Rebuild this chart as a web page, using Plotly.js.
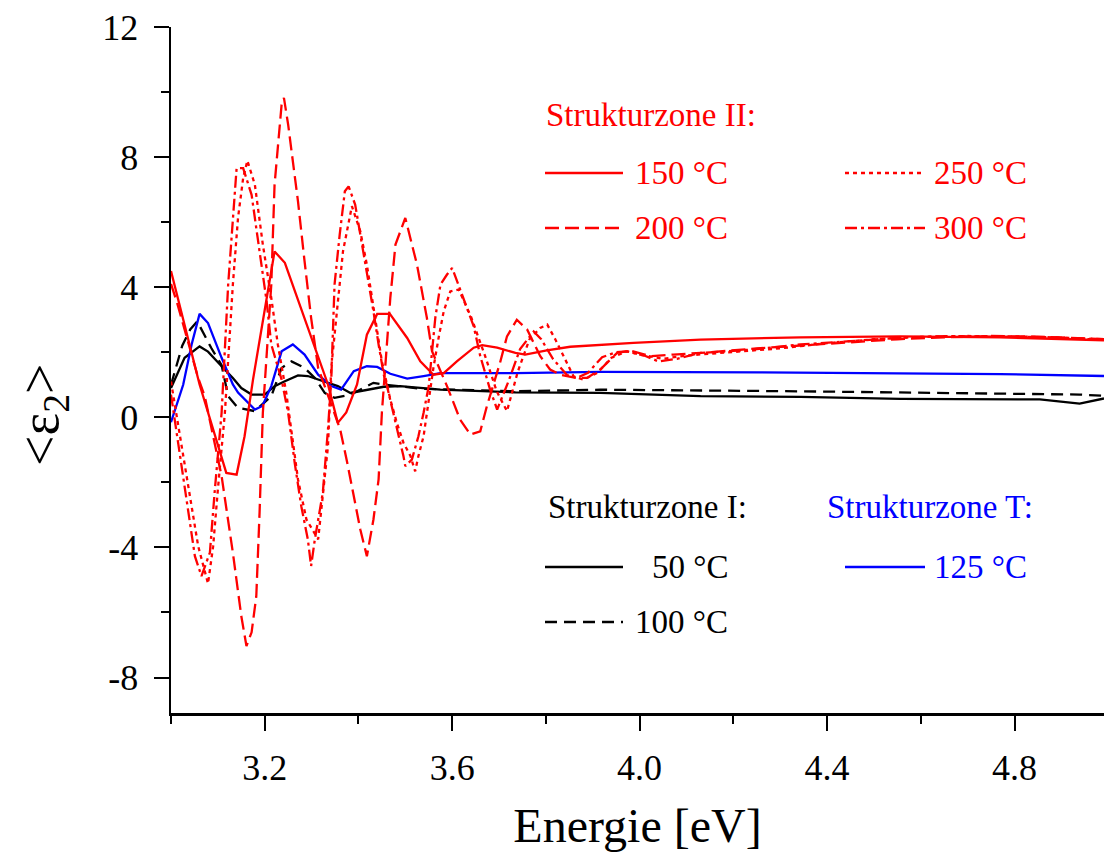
<!DOCTYPE html>
<html>
<head>
<meta charset="utf-8">
<script src="https://cdn.plot.ly/plotly-3.0.1.min.js"></script>
<style>html,body{margin:0;padding:0;background:#fff;}#chart{width:1104px;height:852px;}</style>
</head>
<body>
<div id="chart"></div>
<script>
// ---------- data ----------
const e150 = [3.000, 3.061, 3.118, 3.140, 3.157, 3.175, 3.221, 3.243, 3.335, 3.356, 3.374, 3.397, 3.418, 3.440, 3.467, 3.504, 3.532, 3.560, 3.582, 3.610, 3.646, 3.664, 3.696, 3.735, 3.756, 3.802, 3.852, 3.987, 4.130, 4.343, 4.556, 4.769, 4.991];
const v150 = [4.50, 1.01, -1.71, -1.76, -0.58, 1.16, 5.10, 4.75, 1.01, -0.17, 0.15, 1.01, 2.54, 3.18, 3.18, 2.44, 1.72, 1.31, 1.36, 1.72, 2.14, 2.22, 2.14, 1.98, 1.93, 2.06, 2.17, 2.29, 2.39, 2.46, 2.49, 2.46, 2.37];

const e200 = [3.000, 3.012, 3.058, 3.072, 3.108, 3.132, 3.150, 3.161, 3.172, 3.182, 3.189, 3.196, 3.214, 3.221, 3.236, 3.241, 3.250, 3.271, 3.285, 3.299, 3.314, 3.361, 3.376, 3.390, 3.404, 3.418, 3.432, 3.443, 3.450, 3.468, 3.479, 3.500, 3.525, 3.546, 3.557, 3.589, 3.617, 3.639, 3.660, 3.674, 3.702, 3.717, 3.738, 3.760, 3.788, 3.809, 3.831, 3.866, 3.888, 3.916, 3.952, 3.980, 4.023, 4.072, 4.150, 4.250, 4.350, 4.450, 4.550, 4.650, 4.750, 4.850, 4.991];
const v200 = [4.10, 3.57, 1.21, 0.65, -1.81, -4.16, -6.11, -7.03, -6.61, -5.50, -2.93, 0.14, 4.08, 7.15, 9.61, 9.82, 9.00, 6.64, 4.80, 3.06, 1.52, -0.37, -1.39, -2.42, -3.45, -4.27, -3.14, -1.91, 0.14, 3.67, 5.31, 6.13, 4.69, 3.06, 2.03, 0.96, -0.07, -0.53, -0.43, 0.34, 1.67, 2.49, 3.00, 2.70, 1.88, 1.47, 1.31, 1.21, 1.21, 1.47, 1.98, 2.05, 1.88, 1.93, 2.00, 2.12, 2.22, 2.32, 2.40, 2.46, 2.50, 2.48, 2.40];

const e250 = [3.000, 3.019, 3.040, 3.058, 3.079, 3.090, 3.100, 3.115, 3.132, 3.143, 3.154, 3.163, 3.179, 3.196, 3.214, 3.228, 3.246, 3.257, 3.271, 3.289, 3.314, 3.317, 3.328, 3.335, 3.342, 3.356, 3.367, 3.386, 3.404, 3.418, 3.429, 3.440, 3.450, 3.468, 3.482, 3.496, 3.511, 3.521, 3.528, 3.539, 3.546, 3.560, 3.571, 3.582, 3.596, 3.614, 3.640, 3.670, 3.695, 3.717, 3.740, 3.765, 3.788, 3.803, 3.820, 3.840, 3.859, 3.880, 3.910, 3.940, 3.973, 4.000, 4.050, 4.100, 4.200, 4.300, 4.400, 4.500, 4.600, 4.700, 4.800, 4.900, 4.991];
const v250 = [1.10, -0.58, -2.42, -3.96, -5.11, -3.96, -2.22, 0.14, 4.08, 6.13, 7.36, 7.89, 7.15, 5.31, 3.67, 2.24, 0.75, -0.37, -1.91, -3.14, -3.75, -3.35, -1.91, -0.89, 1.53, 3.57, 5.10, 6.49, 5.72, 4.69, 3.67, 2.75, 1.72, 0.55, -0.17, -0.78, -1.19, -1.66, -1.19, -0.58, 0.14, 1.52, 2.44, 3.26, 3.87, 3.93, 3.10, 1.90, 0.80, 0.19, 1.40, 2.40, 2.75, 2.85, 2.40, 1.80, 1.26, 1.16, 1.37, 1.83, 2.03, 1.93, 1.80, 1.90, 2.00, 2.12, 2.28, 2.40, 2.47, 2.50, 2.49, 2.45, 2.38];

const e300 = [3.000, 3.008, 3.029, 3.051, 3.065, 3.083, 3.093, 3.108, 3.122, 3.132, 3.140, 3.154, 3.172, 3.189, 3.204, 3.214, 3.236, 3.250, 3.264, 3.278, 3.292, 3.299, 3.307, 3.324, 3.335, 3.342, 3.349, 3.360, 3.371, 3.379, 3.393, 3.404, 3.418, 3.432, 3.443, 3.454, 3.461, 3.475, 3.486, 3.496, 3.500, 3.514, 3.528, 3.539, 3.550, 3.564, 3.575, 3.589, 3.600, 3.617, 3.646, 3.660, 3.681, 3.696, 3.720, 3.745, 3.774, 3.790, 3.815, 3.845, 3.866, 3.890, 3.920, 3.950, 3.973, 4.010, 4.040, 4.080, 4.130, 4.236, 4.343, 4.450, 4.556, 4.660, 4.770, 4.880, 4.991];
const v300 = [0.70, -0.06, -2.20, -4.27, -4.88, -4.16, -2.32, 0.14, 4.08, 6.13, 7.66, 7.66, 6.84, 5.10, 3.57, 2.24, 1.16, 0.14, -1.40, -2.73, -3.75, -4.57, -3.75, -2.31, -0.37, 1.16, 4.08, 5.62, 6.95, 7.10, 6.54, 5.62, 4.49, 3.26, 2.24, 1.31, 0.96, 0.14, -0.58, -1.19, -1.50, -1.30, -0.58, 0.14, 0.96, 3.06, 4.08, 4.39, 4.59, 3.93, 2.80, 1.88, 0.85, 0.24, 1.10, 2.10, 2.64, 2.40, 1.80, 1.30, 1.21, 1.37, 1.85, 2.00, 2.03, 1.90, 1.72, 1.80, 1.98, 2.08, 2.24, 2.34, 2.45, 2.50, 2.48, 2.46, 2.40];

const e50 = [3.000, 3.029, 3.061, 3.079, 3.108, 3.132, 3.150, 3.172, 3.200, 3.221, 3.243, 3.271, 3.292, 3.314, 3.356, 3.383, 3.454, 3.489, 3.575, 3.735, 3.916, 4.130, 4.343, 4.556, 4.769, 4.854, 4.939, 4.991];
const v50 = [0.90, 1.83, 2.18, 2.02, 1.57, 1.21, 0.90, 0.70, 0.70, 0.96, 1.11, 1.29, 1.27, 1.16, 0.96, 0.75, 0.94, 0.96, 0.85, 0.77, 0.75, 0.65, 0.63, 0.57, 0.56, 0.55, 0.42, 0.58];

const e100 = [3.000, 3.024, 3.041, 3.056, 3.086, 3.108, 3.122, 3.143, 3.179, 3.214, 3.236, 3.257, 3.285, 3.307, 3.328, 3.349, 3.383, 3.432, 3.454, 3.532, 3.735, 3.916, 4.343, 4.769, 4.939, 4.991];
const v100 = [1.00, 2.20, 2.70, 2.95, 2.13, 1.60, 0.65, 0.29, 0.19, 0.65, 1.52, 1.72, 1.52, 1.21, 0.75, 0.60, 0.70, 1.06, 1.01, 0.88, 0.80, 0.85, 0.80, 0.73, 0.70, 0.66];

const e125 = [3.000, 3.026, 3.044, 3.061, 3.079, 3.108, 3.132, 3.143, 3.179, 3.195, 3.214, 3.236, 3.260, 3.285, 3.314, 3.342, 3.363, 3.390, 3.418, 3.440, 3.468, 3.504, 3.539, 3.575, 3.735, 3.916, 4.257, 4.556, 4.769, 4.991];
const v125 = [-0.15, 1.00, 2.24, 3.18, 2.90, 1.83, 1.01, 0.76, 0.24, 0.35, 0.96, 2.03, 2.24, 1.93, 1.31, 0.96, 0.85, 1.42, 1.57, 1.55, 1.34, 1.19, 1.27, 1.36, 1.36, 1.40, 1.38, 1.36, 1.33, 1.27];

const xTickVals = [3.2, 3.6, 4.0, 4.4, 4.8];
const xTickText = ["3.2", "3.6", "4.0", "4.4", "4.8"];
const yTickVals = [-8, -4, 0, 4, 8, 12];
const yTickText = ["-8", "-4", "0", "4", "8", "12"];

// ---------- styling ----------
const RED = '#ff0000', BLACK = '#000000', BLUE = '#0000ff';
const LW = 2.3;
const DASH_RED = '14px,6px';
const DOT_RED = '4px,4px';
const DASHDOT_RED = '12px,4px,3px,4px';
const DASH_BLACK = '12px,7px';
const SERIF = '"Liberation Serif", "Times New Roman", serif';

function tr(x, y, color, dash, name) {
  return {x: x, y: y, type: 'scatter', mode: 'lines', name: name,
          line: {color: color, width: LW, dash: dash}, showlegend: false, hoverinfo: 'skip'};
}
const traces = [
  tr(e50, v50, BLACK, 'solid', '50 °C'),
  tr(e100, v100, BLACK, DASH_BLACK, '100 °C'),
  tr(e125, v125, BLUE, 'solid', '125 °C'),
  tr(e300, v300, RED, DASHDOT_RED, '300 °C'),
  tr(e250, v250, RED, DOT_RED, '250 °C'),
  tr(e200, v200, RED, DASH_RED, '200 °C'),
  tr(e150, v150, RED, 'solid', '150 °C')
];

// plot area in pixels (for placing the hand-made legend)
const L = 171, R = 1104, T = 27, B = 713;
const px = p => (p - L) / (R - L);
const py = p => (B - p) / (B - T);

function legLine(x0, x1, y, color, dash) {
  return {type: 'line', xref: 'paper', yref: 'paper', x0: px(x0), x1: px(x1), y0: py(y), y1: py(y),
          line: {color: color, width: 2.5, dash: dash}};
}
function txt(text, x, y, color, anchor) {
  return {text: text, xref: 'paper', yref: 'paper', x: px(x), y: py(y), xanchor: anchor, yanchor: 'middle',
          showarrow: false, font: {family: SERIF, size: 33, color: color}};
}

const shapes = [
  legLine(545, 623, 173, RED, 'solid'),
  legLine(845, 925, 173, RED, DOT_RED),
  legLine(545, 623, 228, RED, DASH_RED),
  legLine(845, 925, 228, RED, DASHDOT_RED),
  legLine(545, 623, 567, BLACK, 'solid'),
  legLine(545, 623, 622, BLACK, DASH_BLACK),
  legLine(845, 925, 567, BLUE, 'solid')
];
const annotations = [
  txt('Strukturzone II:', 544, 115, RED, 'left'),
  txt('150 °C', 730, 173, RED, 'right'),
  txt('250 °C', 1029, 173, RED, 'right'),
  txt('200 °C', 730, 228, RED, 'right'),
  txt('300 °C', 1029, 228, RED, 'right'),
  txt('Strukturzone I:', 546, 507, BLACK, 'left'),
  txt('50 °C', 730, 567, BLACK, 'right'),
  txt('100 °C', 730, 622, BLACK, 'right'),
  txt('Strukturzone T:', 825, 507, BLUE, 'left'),
  txt('125 °C', 1029, 567, BLUE, 'right'),
  {text: '&lt;ε<sub>2</sub>&gt;', xref: 'paper', yref: 'paper', x: px(43), y: py(415),
   xanchor: 'center', yanchor: 'middle', textangle: -90, showarrow: false,
   font: {family: SERIF, size: 54, color: '#000'}}
];

const axisCommon = {
  showline: true, linecolor: '#000', linewidth: 2.5, mirror: false,
  showgrid: false, zeroline: false, ticks: 'outside', ticklen: 15, tickwidth: 2, tickcolor: '#000',
  tickfont: {family: SERIF, size: 36, color: '#000'}, fixedrange: true
};

const layout = {
  width: 1104, height: 852,
  margin: {l: L, r: 1104 - R, t: T, b: 852 - B, pad: 0},
  paper_bgcolor: '#fff', plot_bgcolor: '#fff',
  showlegend: false,
  xaxis: Object.assign({}, axisCommon, {
    range: [3.0, 4.991], tickmode: 'array', tickvals: xTickVals, ticktext: xTickText,
    minor: {dtick: 0.2, tick0: 3.0, ticks: 'outside', ticklen: 8, tickwidth: 2, tickcolor: '#000', showgrid: false},
    ticklabelstandoff: 6,
    title: {text: 'Energie [eV]', font: {family: SERIF, size: 48, color: '#000'}, standoff: 26}
  }),
  yaxis: Object.assign({}, axisCommon, {
    range: [-9.09, 12], tickmode: 'array', tickvals: yTickVals, ticktext: yTickText,
    minor: {dtick: 2, tick0: 0, ticks: 'outside', ticklen: 8, tickwidth: 2, tickcolor: '#000', showgrid: false},
    ticklabelstandoff: 8
  }),
  shapes: shapes,
  annotations: annotations
};

Plotly.newPlot('chart', traces, layout, {displayModeBar: false, staticPlot: true});
</script>
</body>
</html>
